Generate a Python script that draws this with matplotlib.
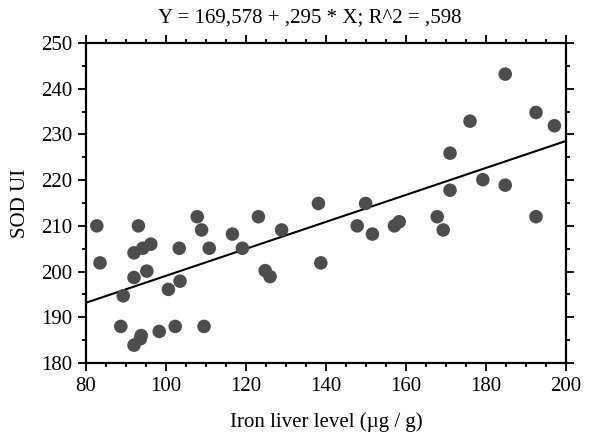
import numpy as np
import matplotlib
matplotlib.use('Agg')
import matplotlib.pyplot as plt
from matplotlib.ticker import MultipleLocator

# iron liver level (ug/g) vs SOD UI
iron = [82.7, 83.5, 93.1, 92.0, 94.2, 96.2, 92.0, 95.2, 89.3, 88.7,
        92.0, 93.8, 93.6, 98.3, 102.3, 109.5, 100.6, 103.5, 103.3, 107.8,
        108.9, 110.8, 116.6, 119.1, 123.1, 124.8, 126.0, 128.9,
        138.1, 138.7, 147.8, 149.9, 151.6, 157.1, 158.3, 167.8, 169.3, 171.0,
        171.0, 176.0, 179.2, 184.8, 184.8, 192.5, 192.5, 197.1]
sod = [210.0, 201.9, 210.0, 204.1, 205.1, 206.0, 198.7, 200.1, 194.7, 188.0,
       183.9, 186.0, 185.3, 186.9, 188.0, 188.0, 196.1, 197.9, 205.1, 212.0,
       209.1, 205.1, 208.2, 205.1, 212.0, 200.2, 198.9, 209.1,
       214.9, 201.9, 210.0, 214.9, 208.2, 210.0, 210.9, 212.0, 209.1, 225.9,
       217.8, 232.9, 220.1, 243.2, 218.9, 234.8, 212.0, 231.9]

intercept = 169.578
slope = 0.295
title = 'Y = 169,578 + ,295 * X; R^2 = ,598'

plt.rcParams['font.family'] = ['Liberation Serif', 'DejaVu Serif']

fig = plt.figure(figsize=(5.94, 4.43), dpi=100)
ax = fig.add_axes([0.1448, 0.1806, 0.8081, 0.7223])

ax.scatter(iron, sod, s=95, color='#4d4d4d', edgecolors='none', zorder=3)

xl = np.array([80, 200])
ax.plot(xl, intercept + slope * xl, color='black', lw=1.5, zorder=2)

ax.set_xlim(80, 200)
ax.set_ylim(180, 250)
ax.xaxis.set_major_locator(MultipleLocator(20))
ax.xaxis.set_minor_locator(MultipleLocator(5))
ax.yaxis.set_major_locator(MultipleLocator(10))
ax.yaxis.set_minor_locator(MultipleLocator(5))

for s in ax.spines.values():
    s.set_linewidth(1.6)
ax.tick_params(which='both', direction='out', top=True, right=True,
               labelsize=15, width=1.3, pad=4)
ax.tick_params(which='major', length=6)
ax.tick_params(which='minor', length=3)

ax.set_xlabel('Iron liver level (\u00b5g / g)', fontsize=15, labelpad=12)
ax.set_ylabel('SOD UI', fontsize=15, labelpad=8)
ax.set_title(title, fontsize=15, pad=15, x=0.467)

fig.savefig('out.png', dpi=100)
